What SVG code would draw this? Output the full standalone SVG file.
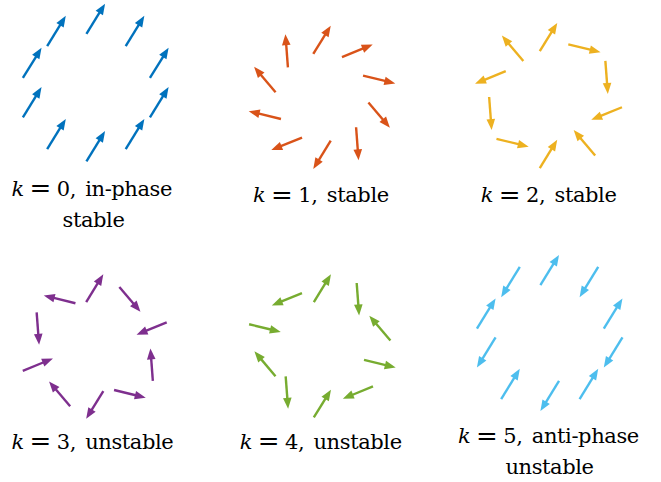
<svg xmlns="http://www.w3.org/2000/svg" xmlns:xlink="http://www.w3.org/1999/xlink" width="661" height="482" viewBox="0 0 661 482">
<style>
  .lbl { font-family: "DejaVu Serif", "Liberation Serif", serif; font-size: 21px; letter-spacing: -0.4px; fill: #000; }
  .it { font-style: italic; }
  .eq { font-size: 26px; }
  .arrows { stroke-width: 2.4; stroke-linecap: butt; }
  #k0 { fill: #0072BD; stroke: #0072BD; }
  #k1 { fill: #D95319; stroke: #D95319; }
  #k2 { fill: #EDB120; stroke: #EDB120; }
  #k3 { fill: #7E2F8E; stroke: #7E2F8E; }
  #k4 { fill: #77AC30; stroke: #77AC30; }
  #k5 { fill: #4DBEEE; stroke: #4DBEEE; }
</style>
<defs>
  <g id="A"><path d="M-17.75,0H8" fill="none"/><path d="M6.75,-4.3L17.75,0L6.75,4.3Z" stroke="none"/></g>
  <g id="B"><path d="M-16.6,0H7" fill="none"/><path d="M5.6,-4.3L16.6,0L5.6,4.3Z" stroke="none"/></g>
  <g id="C"><path d="M-16.3,0H7" fill="none"/><path d="M5.3,-4.3L16.3,0L5.3,4.3Z" stroke="none"/></g>
</defs>
<rect width="661" height="482" fill="#fff"/>

<g id="k0" class="arrows">
  <use href="#A" transform="translate(95.75,18.8) rotate(-58.3)"/>
  <use href="#A" transform="translate(135.02,30.97) rotate(-58.3)"/>
  <use href="#A" transform="translate(159.28,62.82) rotate(-58.3)"/>
  <use href="#A" transform="translate(159.28,102.18) rotate(-58.3)"/>
  <use href="#A" transform="translate(135.02,134.03) rotate(-58.3)"/>
  <use href="#A" transform="translate(95.75,146.2) rotate(-58.3)"/>
  <use href="#A" transform="translate(56.48,134.03) rotate(-58.3)"/>
  <use href="#A" transform="translate(32.22,102.18) rotate(-58.3)"/>
  <use href="#A" transform="translate(32.22,62.82) rotate(-58.3)"/>
  <use href="#A" transform="translate(56.48,30.97) rotate(-58.3)"/>
</g>
<g id="k1" class="arrows">
  <use href="#B" transform="translate(322,39.8) rotate(-58.3)"/>
  <use href="#B" transform="translate(357.33,50.78) rotate(-22.3)"/>
  <use href="#B" transform="translate(379.16,79.53) rotate(13.7)"/>
  <use href="#B" transform="translate(379.16,115.07) rotate(49.7)"/>
  <use href="#B" transform="translate(357.33,143.82) rotate(85.7)"/>
  <use href="#B" transform="translate(322,154.8) rotate(121.7)"/>
  <use href="#B" transform="translate(286.67,143.82) rotate(157.7)"/>
  <use href="#B" transform="translate(264.84,115.07) rotate(193.7)"/>
  <use href="#B" transform="translate(264.84,79.53) rotate(229.7)"/>
  <use href="#B" transform="translate(286.67,50.78) rotate(265.7)"/>
</g>
<g id="k2" class="arrows">
  <use href="#B" transform="translate(548.5,37.1) rotate(-58.3)"/>
  <use href="#B" transform="translate(584.41,48.25) rotate(13.7)"/>
  <use href="#B" transform="translate(606.61,77.45) rotate(85.7)"/>
  <use href="#B" transform="translate(606.61,113.55) rotate(157.7)"/>
  <use href="#B" transform="translate(584.41,142.75) rotate(229.7)"/>
  <use href="#B" transform="translate(548.5,153.9) rotate(-58.3)"/>
  <use href="#B" transform="translate(512.59,142.75) rotate(13.7)"/>
  <use href="#B" transform="translate(490.39,113.55) rotate(85.7)"/>
  <use href="#B" transform="translate(490.39,77.45) rotate(157.7)"/>
  <use href="#B" transform="translate(512.59,48.25) rotate(229.7)"/>
</g>
<g id="k3" class="arrows">
  <use href="#C" transform="translate(94.75,288.2) rotate(-58.3)"/>
  <use href="#C" transform="translate(129.9,299.35) rotate(49.7)"/>
  <use href="#C" transform="translate(151.63,328.55) rotate(157.7)"/>
  <use href="#C" transform="translate(151.63,364.65) rotate(265.7)"/>
  <use href="#C" transform="translate(129.9,393.85) rotate(13.7)"/>
  <use href="#C" transform="translate(94.75,405) rotate(121.7)"/>
  <use href="#C" transform="translate(59.6,393.85) rotate(229.7)"/>
  <use href="#C" transform="translate(37.87,364.65) rotate(-22.3)"/>
  <use href="#C" transform="translate(37.87,328.55) rotate(85.7)"/>
  <use href="#C" transform="translate(59.6,299.35) rotate(193.7)"/>
</g>
<g id="k4" class="arrows">
  <use href="#C" transform="translate(322.4,288.2) rotate(-58.3)"/>
  <use href="#C" transform="translate(357.9,299.22) rotate(85.7)"/>
  <use href="#C" transform="translate(379.85,328.07) rotate(229.7)"/>
  <use href="#C" transform="translate(379.85,363.73) rotate(13.7)"/>
  <use href="#C" transform="translate(357.9,392.58) rotate(157.7)"/>
  <use href="#C" transform="translate(322.4,403.6) rotate(-58.3)"/>
  <use href="#C" transform="translate(286.9,392.58) rotate(85.7)"/>
  <use href="#C" transform="translate(264.95,363.73) rotate(229.7)"/>
  <use href="#C" transform="translate(264.95,328.07) rotate(13.7)"/>
  <use href="#C" transform="translate(286.9,299.22) rotate(157.7)"/>
</g>
<g id="k5" class="arrows">
  <use href="#A" transform="translate(549.7,270) rotate(-58.3)"/>
  <use href="#A" transform="translate(588.91,282.03) rotate(121.7)"/>
  <use href="#A" transform="translate(613.14,313.53) rotate(-58.3)"/>
  <use href="#A" transform="translate(613.14,352.47) rotate(121.7)"/>
  <use href="#A" transform="translate(588.91,383.97) rotate(-58.3)"/>
  <use href="#A" transform="translate(549.7,396) rotate(121.7)"/>
  <use href="#A" transform="translate(510.49,383.97) rotate(-58.3)"/>
  <use href="#A" transform="translate(486.26,352.47) rotate(121.7)"/>
  <use href="#A" transform="translate(486.26,313.53) rotate(-58.3)"/>
  <use href="#A" transform="translate(510.49,282.03) rotate(121.7)"/>
</g>

<g id="labels">
  <text class="lbl" y="195.7"><tspan x="11.4" class="it">k</tspan><tspan x="29.5" dy="1.5" class="eq">=</tspan><tspan x="56.7" dy="-1.5">0,</tspan><tspan x="85.2">in-phase</tspan></text>
  <text class="lbl" x="93.5" y="227" text-anchor="middle">stable</text>
  <text class="lbl" y="202"><tspan x="253" class="it">k</tspan><tspan x="271.1" dy="1.5" class="eq">=</tspan><tspan x="298.3" dy="-1.5">1,</tspan><tspan x="326.8">stable</tspan></text>
  <text class="lbl" y="202"><tspan x="480.7" class="it">k</tspan><tspan x="498.8" dy="1.5" class="eq">=</tspan><tspan x="526" dy="-1.5">2,</tspan><tspan x="554.5">stable</tspan></text>
  <text class="lbl" y="448.5"><tspan x="11.4" class="it">k</tspan><tspan x="29.5" dy="1.5" class="eq">=</tspan><tspan x="56.7" dy="-1.5">3,</tspan><tspan x="85.2">unstable</tspan></text>
  <text class="lbl" y="448.5"><tspan x="239.7" class="it">k</tspan><tspan x="257.8" dy="1.5" class="eq">=</tspan><tspan x="285" dy="-1.5">4,</tspan><tspan x="313.5">unstable</tspan></text>
  <text class="lbl" y="443"><tspan x="458" class="it">k</tspan><tspan x="476.1" dy="1.5" class="eq">=</tspan><tspan x="503.3" dy="-1.5">5,</tspan><tspan x="531.8">anti-phase</tspan></text>
  <text class="lbl" x="549.5" y="473.5" text-anchor="middle">unstable</text>
</g>
</svg>
